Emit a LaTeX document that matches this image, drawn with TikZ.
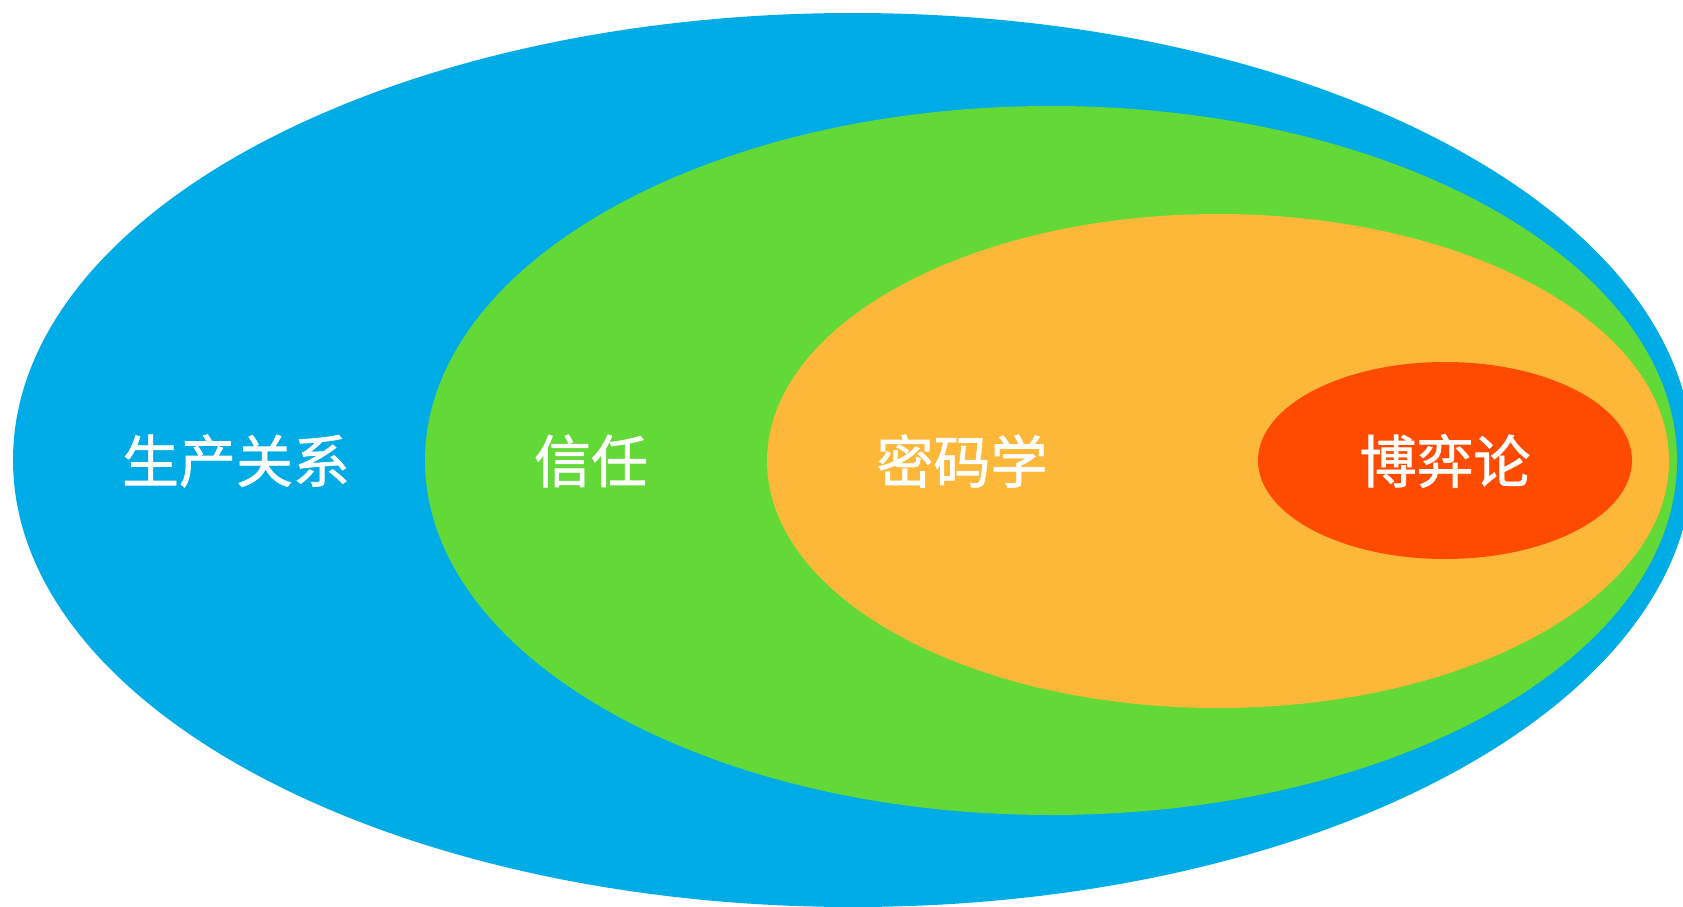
\documentclass[tikz,border=0pt]{standalone}
\usepackage{fontspec}
\newfontfamily\cjk[FakeBold=1.2]{Noto Sans CJK SC}
\definecolor{cblue}{HTML}{00ACE6}
\definecolor{cgreen}{HTML}{62D936}
\definecolor{corange}{HTML}{FDB83A}
\definecolor{cred}{HTML}{FF4B00}
\begin{document}
\begin{tikzpicture}[x=1pt,y=-1pt,
  lbl/.style={text=white,font=\cjk\fontsize{57}{60}\selectfont,inner sep=0pt}]
\useasboundingbox (0,0) rectangle (1683,907);
\begin{scope}
\clip (0,0) rectangle (1683,907);
\fill[cblue] (853,460) ellipse [x radius=840, y radius=447];
\fill[cgreen] (1051,460.5) ellipse [x radius=626, y radius=354.5];
\fill[corange] (1218,461) ellipse [x radius=451, y radius=247];
\fill[cred] (1445,460.5) ellipse [x radius=187, y radius=98.5];
\end{scope}
\node[lbl] (a) at (236,461) {生产关系};
\node[lbl] (b) at (591,461) {信任};
\node[lbl] (c) at (962,461) {密码学};
\node[lbl] (d) at (1445,461) {博弈论};
\end{tikzpicture}
\end{document}
